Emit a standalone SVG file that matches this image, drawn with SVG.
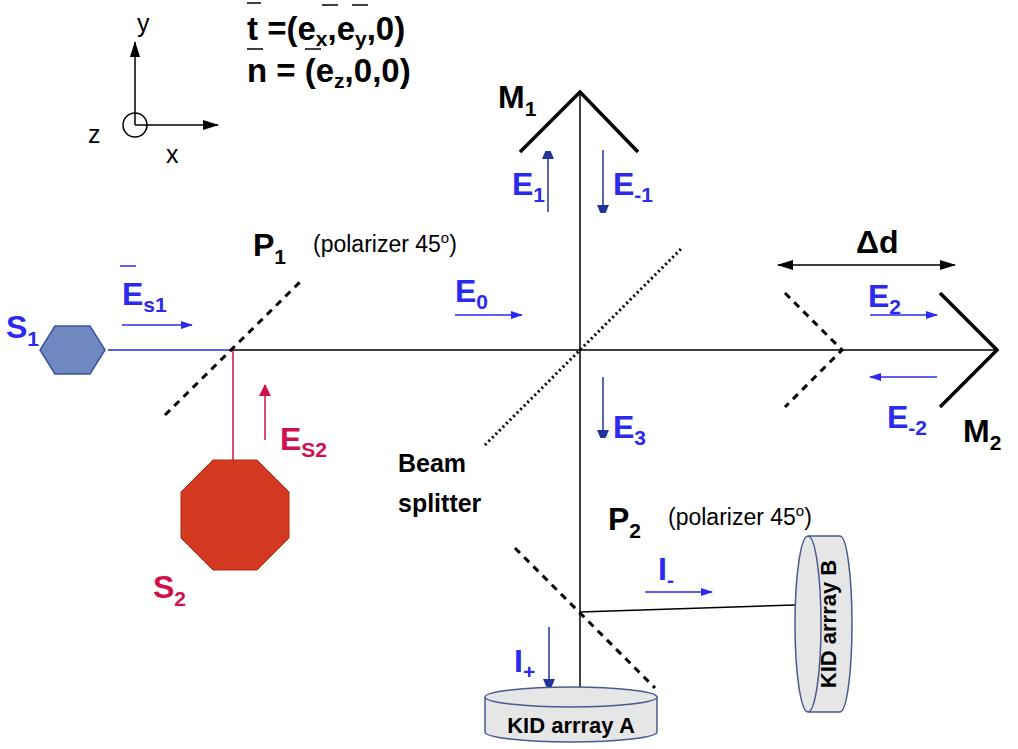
<svg xmlns="http://www.w3.org/2000/svg" width="1018" height="749" viewBox="0 0 1018 749">
<style>
text{font-family:"Liberation Sans",Arial,sans-serif;font-weight:bold}
.b{fill:#2a2af0;font-size:32px}
.k{fill:#000;font-size:32px}
.n{font-weight:normal;font-size:23px;fill:#000}
.ln{stroke:#000;stroke-width:1.5;fill:none}
.dash{stroke:#000;stroke-width:3;stroke-dasharray:7 6;fill:none}
.ab{stroke:#2a2af0;stroke-width:1.5;marker-end:url(#mb)}
.an{stroke:#223399;stroke-width:1.5;marker-end:url(#mn)}
</style>
<defs>
<marker id="mb" markerWidth="12" markerHeight="8" refX="11" refY="4" orient="auto" markerUnits="userSpaceOnUse"><path d="M0,0L12,4L0,8z" fill="#2a2af0"/></marker>
<marker id="mn" markerWidth="8" markerHeight="14" refX="7" refY="7" orient="auto" markerUnits="userSpaceOnUse"><path d="M0,1L14,7L0,13z" fill="#223399"/></marker>
<marker id="mk" markerWidth="16" markerHeight="10" refX="15" refY="5" orient="auto" markerUnits="userSpaceOnUse"><path d="M0,0L16,5L0,10z" fill="#000"/></marker>
<marker id="ms" markerWidth="16" markerHeight="10" refX="1" refY="5" orient="auto" markerUnits="userSpaceOnUse"><path d="M16,0L0,5L16,10z" fill="#000"/></marker>
<marker id="mr" markerWidth="12" markerHeight="12" refX="11" refY="6" orient="auto" markerUnits="userSpaceOnUse"><path d="M0,0L12,6L0,12z" fill="#d0104a"/></marker>
</defs>
<rect width="1018" height="749" fill="#fff"/>
<g id="axes">
<line x1="135" y1="125" x2="135" y2="42" class="ln" marker-end="url(#mk)"/>
<line x1="135" y1="125" x2="218" y2="125" class="ln" marker-end="url(#mk)"/>
<circle cx="135" cy="125" r="12" class="ln"/>
<text x="137" y="32" class="n" style="font-size:25px">y</text>
<text x="88" y="143" class="n" style="font-size:25px">z</text>
<text x="166" y="163" class="n" style="font-size:25px">x</text>
</g>
<g id="formula">
<text x="247" y="40" class="k" style="font-size:33px">t =(e<tspan font-size="21" dy="6">x</tspan><tspan dy="-6">,e</tspan><tspan font-size="21" dy="6">y</tspan><tspan dy="-6">,0)</tspan></text>
<text x="247" y="82" class="k" style="font-size:33px">n = (e<tspan font-size="21" dy="6">z</tspan><tspan dy="-6">,0,0)</tspan></text>
<path d="M247,3h14M322,5h16M352,5h16M247,49h16M305,49h16" stroke="#000" stroke-width="1.5"/>
</g>
<g id="connectors">
<line x1="233" y1="350" x2="997" y2="350" class="ln"/>
<line x1="108" y1="350" x2="233" y2="350" stroke="#2a2af0" stroke-width="1.5"/>
<line x1="233" y1="350" x2="233" y2="470" stroke="#d0104a" stroke-width="1.5"/>
<line x1="580" y1="92" x2="580" y2="690" class="ln"/>
<line x1="580" y1="612" x2="795" y2="605" class="ln"/>
<line x1="122" y1="325" x2="192" y2="325" class="ab"/>
<line x1="455" y1="315" x2="522" y2="315" class="ab"/>
<line x1="870" y1="315" x2="937" y2="315" class="ab"/>
<line x1="937" y1="377" x2="870" y2="377" class="ab"/>
<line x1="645" y1="592" x2="712" y2="592" class="ab"/>
<line x1="548" y1="212" x2="548" y2="152" class="an"/>
<line x1="603" y1="150" x2="603" y2="212" class="an"/>
<line x1="603" y1="377" x2="603" y2="437" class="an"/>
<line x1="549" y1="627" x2="549" y2="686" class="an"/>
<line x1="265" y1="440" x2="265" y2="385" stroke="#d0104a" stroke-width="1.5" marker-end="url(#mr)"/>
<line x1="778" y1="265" x2="955" y2="265" stroke="#000" stroke-width="1.5" marker-start="url(#ms)" marker-end="url(#mk)"/>
</g>
<g id="M1"><path d="M520,152L580,92L638,152" stroke="#000" stroke-width="3.5" fill="none"/><text x="498" y="108" class="k">M<tspan font-size="21" dy="8">1</tspan></text></g>
<g id="M2"><path d="M940,293L997,350L940,407" stroke="#000" stroke-width="3.5" fill="none"/><text x="963" y="442" class="k">M<tspan font-size="21" dy="8">2</tspan></text></g>
<g id="M2p"><path d="M785,293L842,350L785,407" class="dash"/></g>
<g id="BS"><line x1="485" y1="445" x2="682" y2="248" stroke="#000" stroke-width="3" stroke-dasharray="2 3"/><text x="398" y="472" style="font-size:25px">Beam</text><text x="398" y="512" style="font-size:25px">splitter</text></g>
<g id="P1"><line x1="165" y1="415" x2="300" y2="282" class="dash"/><text x="253" y="256" class="k">P<tspan font-size="21" dy="8">1</tspan></text><text x="313" y="252" class="n">(polarizer 45<tspan font-size="15" dy="-9">o</tspan><tspan dy="9">)</tspan></text></g>
<g id="P2"><line x1="515" y1="548" x2="655" y2="688" class="dash"/><text x="608" y="530" class="k">P<tspan font-size="21" dy="8">2</tspan></text><text x="668" y="525" class="n">(polarizer 45<tspan font-size="15" dy="-9">o</tspan><tspan dy="9">)</tspan></text></g>
<g id="S1"><polygon points="55,326 90,326 105,350 90,374 55,374 40,350" fill="#6f88c0" stroke="#3a55a0" stroke-width="1.5"/><text x="6" y="338" class="b">S<tspan font-size="21" dy="8">1</tspan></text></g>
<g id="S2"><polygon points="213,460 257,460 289,492 289,538 257,570 213,570 181,538 181,492" fill="#d43a22" stroke="#b02a10" stroke-width="1"/><text x="153" y="598" style="font-size:32px;fill:#d0104a">S<tspan font-size="21" dy="8">2</tspan></text></g>
<g id="labels">
<text x="122" y="305" class="b">E<tspan font-size="21" dy="7">s1</tspan></text><path d="M120,266h16" stroke="#2a2af0" stroke-width="1.5"/>
<text x="455" y="302" class="b">E<tspan font-size="21" dy="7">0</tspan></text>
<text x="512" y="195" class="b">E<tspan font-size="21" dy="7">1</tspan></text>
<text x="613" y="195" class="b">E<tspan font-size="21" dy="7">-1</tspan></text>
<text x="868" y="307" class="b">E<tspan font-size="21" dy="7">2</tspan></text>
<text x="887" y="428" class="b">E<tspan font-size="21" dy="7">-2</tspan></text>
<text x="613" y="438" class="b">E<tspan font-size="21" dy="7">3</tspan></text>
<text x="280" y="450" style="font-size:32px;fill:#d0104a">E<tspan font-size="21" dy="7">S2</tspan></text>
<text x="856" y="253" class="k">Δd</text>
<text x="658" y="580" class="b">I<tspan font-size="21" dy="7">-</tspan></text>
<text x="514" y="672" class="b">I<tspan font-size="21" dy="7">+</tspan></text>
</g>
<g id="KIDA">
<path d="M485,697v35a86,10 0 0 0 172,0v-35" fill="#e6e6e6" stroke="#4a5a90" stroke-width="1.5"/>
<ellipse cx="571" cy="697" rx="86" ry="10" fill="#e6e6e6" stroke="#4a5a90" stroke-width="1.5"/>
<text x="571" y="733" text-anchor="middle" style="font-size:22px">KID arrray A</text>
</g>
<g id="KIDB">
<path d="M808,536h32a12,88 0 0 1 0,176h-32" fill="#e6e6e6" stroke="#4a5a90" stroke-width="1.5"/>
<ellipse cx="808" cy="624" rx="13" ry="88" fill="#e6e6e6" stroke="#4a5a90" stroke-width="1.5"/>
<text transform="translate(836,624) rotate(-90)" text-anchor="middle" style="font-size:22px">KID arrray B</text>
</g>
</svg>
